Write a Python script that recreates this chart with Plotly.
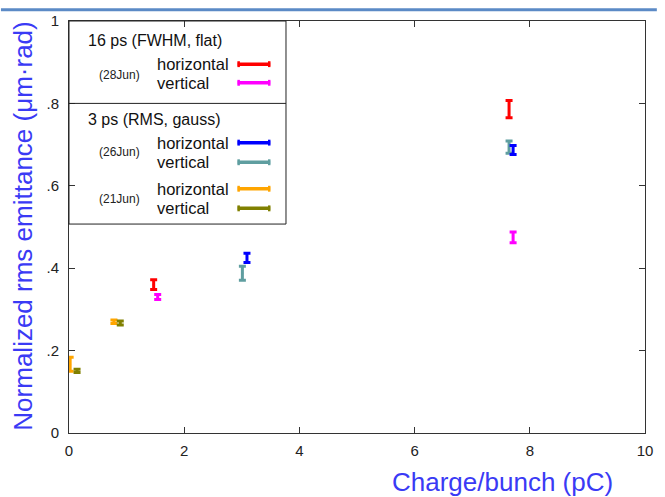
import plotly.graph_objects as go

# ---------------- data ----------------
# 16 ps (FWHM, flat), 28Jun
h28_x = [1.47, 7.64]
h28_y = [0.360, 0.786]
h28_e = [0.012, 0.021]
v28_x = [1.54, 7.71]
v28_y = [0.330, 0.475]
v28_e = [0.006, 0.013]
# 3 ps (RMS, gauss), 26Jun
h26_x = [3.09, 7.71]
h26_y = [0.425, 0.687]
h26_e = [0.011, 0.011]
v26_x = [3.01, 7.64]
v26_y = [0.388, 0.694]
v26_e = [0.017, 0.015]
# 3 ps (RMS, gauss), 21Jun
h21_x = [0.02, 0.78]
h21_y = [0.167, 0.270]
h21_e = [0.017, 0.004]
v21_x = [0.14, 0.89]
v21_y = [0.151, 0.267]
v21_e = [0.004, 0.005]

x_ticks = [0, 2, 4, 6, 8, 10]
y_ticks = [0, 0.2, 0.4, 0.6, 0.8, 1]
y_ticktext = ["0", ".2", ".4", ".6", ".8", "1"]

C_RED = "#ff0000"
C_MAG = "#ff00ff"
C_BLUE = "#0000ff"
C_TEAL = "#5f9ea0"
C_ORANGE = "#ffa500"
C_OLIVE = "#808000"
C_TITLE = "#3a3af5"
FONT = "Liberation Sans, Arial, sans-serif"

series = [
    (h28_x, h28_y, h28_e, C_RED, "28Jun horizontal"),
    (v28_x, v28_y, v28_e, C_MAG, "28Jun vertical"),
    (v26_x, v26_y, v26_e, C_TEAL, "26Jun vertical"),
    (h26_x, h26_y, h26_e, C_BLUE, "26Jun horizontal"),
    (h21_x, h21_y, h21_e, C_ORANGE, "21Jun horizontal"),
    (v21_x, v21_y, v21_e, C_OLIVE, "21Jun vertical"),
]

fig = go.Figure()
for xs, ys, es, col, name in series:
    fig.add_trace(go.Scatter(
        x=xs, y=ys, mode="markers", name=name, showlegend=False,
        marker=dict(size=2, color=col),
        error_y=dict(type="data", array=es, visible=True, color=col,
                     thickness=3, width=3.5),
    ))

W, H = 665, 497
L, R, T, B = 69, 12, 13, 64
PW, PH = W - L - R, H - T - B


def px(x):
    return (x - L) / PW


def py(y):
    return (H - B - y) / PH


shapes = []
annotations = []

# slide decoration line at top
shapes.append(dict(type="line", xref="paper", yref="paper",
                   x0=px(0), x1=px(W), y0=py(1.5), y1=py(1.5),
                   line=dict(color="#5b8ac6", width=3)))

# legend box
shapes.append(dict(type="rect", xref="paper", yref="paper",
                   x0=px(69), x1=px(289), y0=py(13), y1=py(220),
                   line=dict(color="#222222", width=1), fillcolor="rgba(0,0,0,0)"))
shapes.append(dict(type="line", xref="paper", yref="paper",
                   x0=px(69), x1=px(289), y0=py(97), y1=py(97),
                   line=dict(color="#222222", width=1)))

legend_rows = [
    (C_RED, 57, "horizontal"),
    (C_MAG, 76, "vertical"),
    (C_BLUE, 137, "horizontal"),
    (C_TEAL, 157, "vertical"),
    (C_ORANGE, 184, "horizontal"),
    (C_OLIVE, 204, "vertical"),
]
for col, yy, txt in legend_rows:
    shapes.append(dict(type="line", xref="paper", yref="paper",
                       x0=px(240), x1=px(273), y0=py(yy), y1=py(yy),
                       line=dict(color=col, width=3.5)))
    for xe in (241, 272):
        shapes.append(dict(type="line", xref="paper", yref="paper",
                           x0=px(xe), x1=px(xe), y0=py(yy - 3), y1=py(yy + 3),
                           line=dict(color=col, width=2.5)))
    annotations.append(dict(xref="paper", yref="paper", x=px(156), y=py(yy),
                            text=txt, showarrow=False, xanchor="left", yanchor="middle",
                            font=dict(family=FONT, size=16.5, color="#111111")))

for txt, yy in (("16 ps (FWHM, flat)", 33), ("3 ps (RMS, gauss)", 113)):
    annotations.append(dict(xref="paper", yref="paper", x=px(86), y=py(yy),
                            text=txt, showarrow=False, xanchor="left", yanchor="middle",
                            font=dict(family=FONT, size=16, color="#111111")))
for txt, yy in (("(28Jun)", 68), ("(26Jun)", 147), ("(21Jun)", 194)):
    annotations.append(dict(xref="paper", yref="paper", x=px(143), y=py(yy),
                            text=txt, showarrow=False, xanchor="right", yanchor="middle",
                            font=dict(family=FONT, size=12, color="#222222")))

# axis titles
annotations.append(dict(xref="paper", yref="paper", x=px(509), y=py(483),
                        text="Charge/bunch (pC)", showarrow=False,
                        xanchor="center", yanchor="middle",
                        font=dict(family=FONT, size=26, color=C_TITLE)))
annotations.append(dict(xref="paper", yref="paper", x=px(22), y=py(222),
                        text="Normalized rms emittance (μm·rad)", showarrow=False,
                        textangle=-90, xanchor="center", yanchor="middle",
                        font=dict(family=FONT, size=26, color=C_TITLE)))

axis_common = dict(showgrid=False, zeroline=False, showline=True, linecolor="#333333",
                   linewidth=1, mirror="ticks", ticks="inside", ticklen=6,
                   tickcolor="#333333", tickwidth=1,
                   tickfont=dict(family=FONT, size=15, color="#222222"))

fig.update_layout(
    width=W, height=H,
    margin=dict(l=L, r=R, t=T, b=B, pad=0),
    paper_bgcolor="white", plot_bgcolor="white",
    xaxis=dict(range=[0, 10], tickvals=x_ticks, ticklabelstandoff=4, **axis_common),
    yaxis=dict(range=[0, 1], tickvals=y_ticks, ticktext=y_ticktext,
               ticklabelstandoff=6, **axis_common),
    shapes=shapes, annotations=annotations, showlegend=False,
)

fig.write_html("out.html")
